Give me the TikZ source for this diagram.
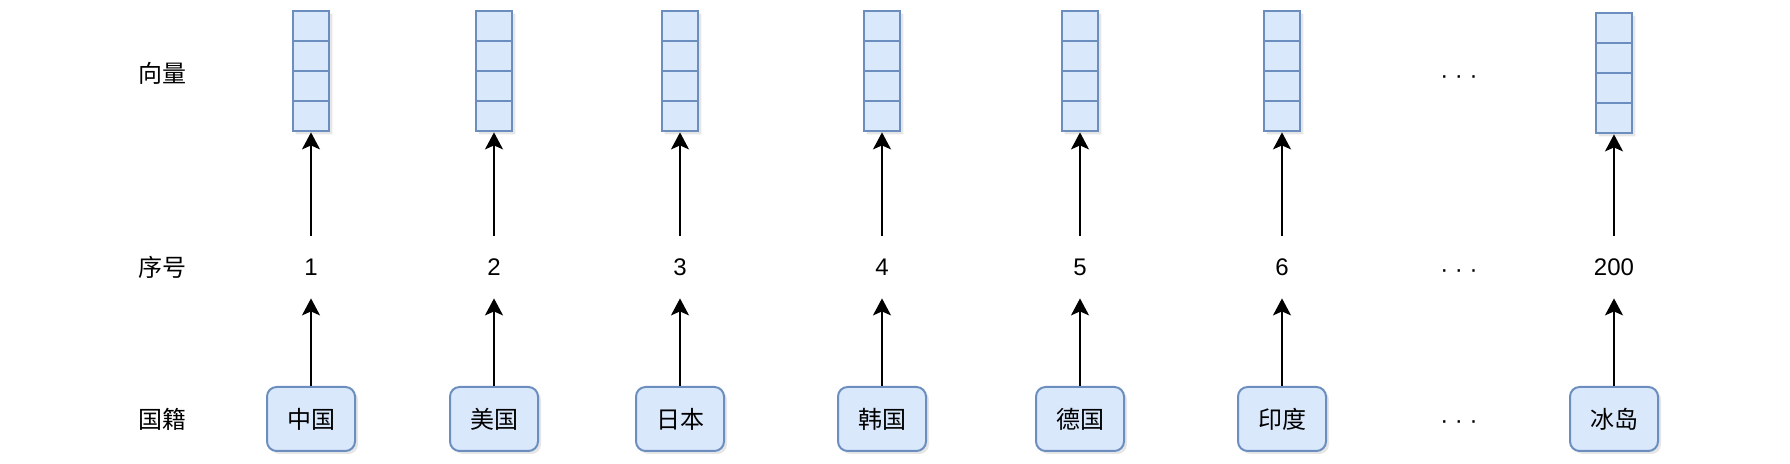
\documentclass[tikz,border=0pt]{standalone}
\usepackage{fontspec}
\setmainfont{Liberation Sans}
\newfontfamily\cjk{Noto Sans CJK SC}
\usepackage{tikz}
\usetikzlibrary{
	shapes,
	shapes.multipart,
	shadows,
	arrows.meta}
\definecolor{boxfill}{HTML}{DAE8FC}
\definecolor{boxdraw}{HTML}{6C8EBF}

\begin{document}
\begin{tikzpicture}[x=0.5pt,y=-0.5pt,font=\fontsize{12}{14}\selectfont]
  \tikzstyle{vec}=[rectangle split,rectangle split parts=4,
    draw=boxdraw,fill=boxfill,line width=1pt,inner sep=0pt,
    rectangle split empty part height=14.1pt,
    rectangle split empty part width=13pt,
    drop shadow={opacity=0.2,shadow xshift=1.5pt,shadow yshift=-1.5pt}]
  \tikzstyle{nat}=[rectangle,draw=boxdraw,fill=boxfill,line width=1pt,
    rounded corners=4.8pt,minimum width=44pt,minimum height=32pt,
    inner sep=0pt,font=\cjk\fontsize{12}{14}\selectfont,
    drop shadow={opacity=0.2,shadow xshift=1.5pt,shadow yshift=-1.5pt}]
  \tikzstyle{num}=[minimum height=31pt,inner sep=0pt]
  \tikzstyle{rowlabel}=[font=\cjk\fontsize{12}{14}\selectfont]
  \tikzstyle{arr}=[-{Stealth[length=8.5pt,width=9pt,inset=2pt]},line width=1pt]

  \useasboundingbox (0,0) rectangle (1790,464);

  \node [rowlabel] (lvec) at (162,73) {向量};
  \node [rowlabel] (lnum) at (162,267) {序号};
  \node [rowlabel] (lnat) at (162,419) {国籍};

  \node [vec] (vec1) at (311,71) {};
  \node [vec] (vec2) at (494,71) {};
  \node [vec] (vec3) at (680,71) {};
  \node [vec] (vec4) at (882,71) {};
  \node [vec] (vec5) at (1080,71) {};
  \node [vec] (vec6) at (1282,71) {};
  \node [vec] (vec200) at (1614,73) {};

  \node [num] (num1) at (311,267) {1};
  \node [num] (num2) at (494,267) {2};
  \node [num] (num3) at (680,267) {3};
  \node [num] (num4) at (882,267) {4};
  \node [num] (num5) at (1080,267) {5};
  \node [num] (num6) at (1282,267) {6};
  \node [num] (num200) at (1614,267) {200};

  \node [nat] (nat1) at (311,419) {中国};
  \node [nat] (nat2) at (494,419) {美国};
  \node [nat] (nat3) at (680,419) {日本};
  \node [nat] (nat4) at (882,419) {韩国};
  \node [nat] (nat5) at (1080,419) {德国};
  \node [nat] (nat6) at (1282,419) {印度};
  \node [nat] (nat200) at (1614,419) {冰岛};

  \node (dvec) at (1459,80) {· · ·};
  \node (dnum) at (1459,274) {· · ·};
  \node (dnat) at (1459,425) {· · ·};

  \draw [arr] (num1.north) -- (vec1.south);
  \draw [arr] (num2.north) -- (vec2.south);
  \draw [arr] (num3.north) -- (vec3.south);
  \draw [arr] (num4.north) -- (vec4.south);
  \draw [arr] (num5.north) -- (vec5.south);
  \draw [arr] (num6.north) -- (vec6.south);
  \draw [arr] (num200.north) -- (vec200.south);

  \draw [arr] (nat1.north) -- (num1.south);
  \draw [arr] (nat2.north) -- (num2.south);
  \draw [arr] (nat3.north) -- (num3.south);
  \draw [arr] (nat4.north) -- (num4.south);
  \draw [arr] (nat5.north) -- (num5.south);
  \draw [arr] (nat6.north) -- (num6.south);
  \draw [arr] (nat200.north) -- (num200.south);
\end{tikzpicture}
\end{document}
